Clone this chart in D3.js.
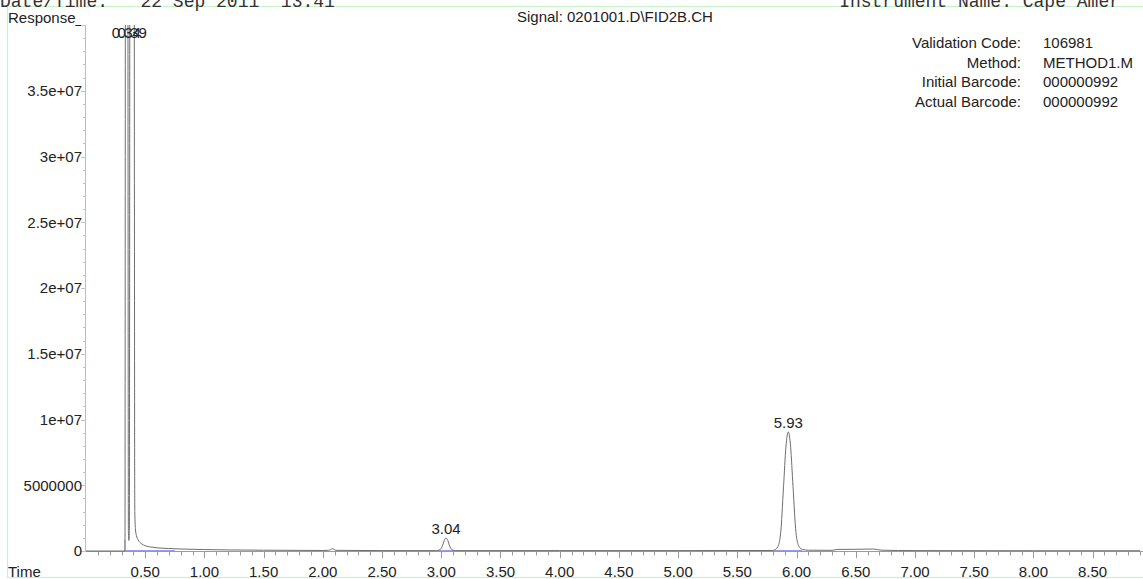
<!DOCTYPE html>
<html>
<head>
<meta charset="utf-8">
<script src="https://cdn.jsdelivr.net/npm/d3@7"></script>
<style>
  html, body { margin: 0; padding: 0; background: #fff; }
  svg { display: block; }
  text { font-family: "Liberation Sans", Arial, sans-serif; fill: #222; }
  .mono { font-family: "Liberation Mono", "DejaVu Sans Mono", monospace; fill: #333; }
</style>
</head>
<body>
<svg id="chart" width="1143" height="579"></svg>
<script>
// ---- data ----
const times = [0.00, 0.30, 0.329, 0.334, 0.352, 0.358, 0.362, 0.366, 0.372, 0.405, 0.412, 0.418, 0.425,
  0.44, 0.47, 0.50, 0.55, 0.60, 0.70, 0.80, 1.00, 1.20, 1.50, 2.00, 2.05, 2.08, 2.11, 2.50,
  2.96, 2.99, 3.01, 3.025, 3.04, 3.055, 3.07, 3.09, 3.12, 4.00, 5.00, 5.80, 5.84, 5.865,
  5.89, 5.91, 5.93, 5.95, 5.97, 5.995, 6.02, 6.05, 6.10, 6.30, 6.35, 6.50, 6.65, 6.72, 7.00, 8.00, 8.90];
const responses = [0, 0, 0, 6.0e7, 6.0e7, 1.5e6, 0.8e6, 1.5e6, 6.0e7, 6.0e7, 3.0e6, 1.6e6, 1.2e6,
  0.85e6, 0.55e6, 0.40e6, 0.30e6, 0.24e6, 0.19e6, 0.15e6, 0.11e6, 0.08e6, 0.06e6, 0.04e6, 0.05e6, 0.17e6, 0.05e6, 0.03e6,
  0.03e6, 0.10e6, 0.40e6, 0.80e6, 1.0e6, 0.80e6, 0.40e6, 0.10e6, 0.03e6, 0.03e6, 0.03e6, 0.04e6, 0.30e6, 1.3e6,
  4.9e6, 7.9e6, 9.05e6, 7.9e6, 4.9e6, 1.4e6, 0.35e6, 0.12e6, 0.06e6, 0.05e6, 0.12e6, 0.13e6, 0.15e6, 0.06e6, 0.03e6, 0.02e6, 0.02e6];

const peakTimes = [0.34, 0.39, 3.04, 5.93];
const peakHeights = [6.0e7, 6.0e7, 1.0e6, 9.05e6];
const peakLabels = ["0.34", "0.39", "3.04", "5.93"];

const baselineStarts = [0.329, 2.97, 5.81];
const baselineEnds = [0.75, 3.12, 6.05];

const xMajorTicks = [0.5, 1.0, 1.5, 2.0, 2.5, 3.0, 3.5, 4.0, 4.5, 5.0, 5.5, 6.0, 6.5, 7.0, 7.5, 8.0, 8.5];
const yMajorTicks = [0, 5e6, 1e7, 1.5e7, 2e7, 2.5e7, 3e7, 3.5e7];
const yTickLabels = ["0", "5000000", "1e+07", "1.5e+07", "2e+07", "2.5e+07", "3e+07", "3.5e+07"];

const infoLabels = ["Validation Code:", "Method:", "Initial Barcode:", "Actual Barcode:"];
const infoValues = ["106981", "METHOD1.M", "000000992", "000000992"];

const headerLeft = "Date/Time:   22 Sep 2011  13:41";
const headerRight = "Instrument Name: Cape Amer";
const signalText = "Signal: 0201001.D\\FID2B.CH";

// ---- layout ----
const svg = d3.select("#chart");
const x0 = 86, x1 = 1140, yTop = 25, yBot = 551;
const x = d3.scaleLinear().domain([0, 8.9]).range([x0, x1]);
const y = d3.scaleLinear().domain([0, 4e7]).range([yBot, yTop]);

// green frame
svg.append("rect").attr("x", 7.5).attr("y", 6.5).attr("width", 1160).attr("height", 571)
  .attr("fill", "none").attr("stroke", "#c9f2c9").attr("stroke-width", 1.2);

// header (cut at top)
svg.append("text").attr("class", "mono").attr("x", 0).attr("y", 7)
  .attr("font-size", 18).style("white-space", "pre").text(headerLeft);
svg.append("text").attr("class", "mono").attr("x", 1120).attr("y", 7).attr("text-anchor", "end")
  .attr("font-size", 18).style("white-space", "pre").text(headerRight);

svg.append("text").attr("x", 8).attr("y", 22.5).attr("font-size", 15).text("Response_");
svg.append("text").attr("x", 517).attr("y", 22).attr("font-size", 15).text(signalText);

// info block
const info = svg.append("g");
infoLabels.forEach((lab, i) => {
  const yy = 48 + i * 19.6;
  info.append("text").attr("x", 1021).attr("y", yy).attr("text-anchor", "end").attr("font-size", 15).text(lab);
  info.append("text").attr("x", 1043).attr("y", yy).attr("font-size", 15).text(infoValues[i]);
});

// axes
const axisColor = "#9a9a9a";
svg.append("line").attr("x1", x0 - 0.5).attr("x2", x0 - 0.5).attr("y1", yTop).attr("y2", yBot)
  .attr("stroke", "#bcbcbc").attr("stroke-width", 1);
svg.append("line").attr("x1", x0 - 0.5).attr("x2", x1 + 3).attr("y1", yBot + 0.5).attr("y2", yBot + 0.5)
  .attr("stroke", axisColor).attr("stroke-width", 1.2);

// x ticks (minor every 0.1)
const xMinor = d3.range(1, 90).map(d => d / 10);
svg.append("g").selectAll("line").data(xMinor).join("line")
  .attr("x1", d => Math.round(x(d)) + 0.5).attr("x2", d => Math.round(x(d)) + 0.5)
  .attr("y1", yBot + 1).attr("y2", d => (Math.abs(d * 2 - Math.round(d * 2)) < 1e-6) ? yBot + 7 : yBot + 4.5)
  .attr("stroke", axisColor).attr("stroke-width", 1);
svg.append("g").selectAll("text").data(xMajorTicks).join("text")
  .attr("x", d => x(d)).attr("y", 577).attr("text-anchor", "middle").attr("font-size", 15)
  .text(d => d.toFixed(2));
svg.append("text").attr("x", 8).attr("y", 577).attr("font-size", 15).text("Time");

// y ticks (minor every 1e6)
const yMinor = d3.range(0, 41).map(d => d * 1e6);
svg.append("g").selectAll("line").data(yMinor).join("line")
  .attr("x1", d => (d % 5e6 === 0) ? x0 - 5 : x0 - 3).attr("x2", x0)
  .attr("y1", d => Math.round(y(d)) + 0.5).attr("y2", d => Math.round(y(d)) + 0.5)
  .attr("stroke", "#c4c4c4").attr("stroke-width", 1);
svg.append("g").selectAll("text").data(yMajorTicks).join("text")
  .attr("x", 82).attr("y", d => y(d) + 5.3).attr("text-anchor", "end").attr("font-size", 15)
  .text((d, i) => yTickLabels[i]);

// clip
svg.append("clipPath").attr("id", "plotclip").append("rect")
  .attr("x", x0).attr("y", yTop).attr("width", x1 - x0 + 3).attr("height", yBot - yTop + 1);

// integration baselines (blue)
const bl = svg.append("g").attr("clip-path", "url(#plotclip)");
baselineStarts.forEach((s, i) => {
  bl.append("line").attr("x1", x(s)).attr("x2", x(baselineEnds[i]))
    .attr("y1", y(0) - 0.5).attr("y2", y(0) - 0.5).attr("stroke", "#9a9af2").attr("stroke-width", 1);
});
bl.append("line").attr("x1", x(baselineStarts[0])).attr("x2", x(baselineStarts[0]))
  .attr("y1", y(0)).attr("y2", y(0.85e6)).attr("stroke", "#9a9af2").attr("stroke-width", 1);

// signal trace
const data = times.map((t, i) => ({t, v: responses[i]}));
const line = d3.line().x(d => x(d.t)).y(d => y(d.v)).curve(d3.curveMonotoneX);
svg.append("path").datum(data).attr("clip-path", "url(#plotclip)")
  .attr("d", line).attr("fill", "none").attr("stroke", "#6e6e6e").attr("stroke-width", 1);

// peak labels
svg.append("g").selectAll("text").data(peakTimes).join("text")
  .attr("x", d => x(d)).attr("y", (d, i) => Math.max(y(peakHeights[i]), 41) - 3.5)
  .attr("text-anchor", "middle").attr("font-size", 15)
  .text((d, i) => peakLabels[i]);
</script>
</body>
</html>
